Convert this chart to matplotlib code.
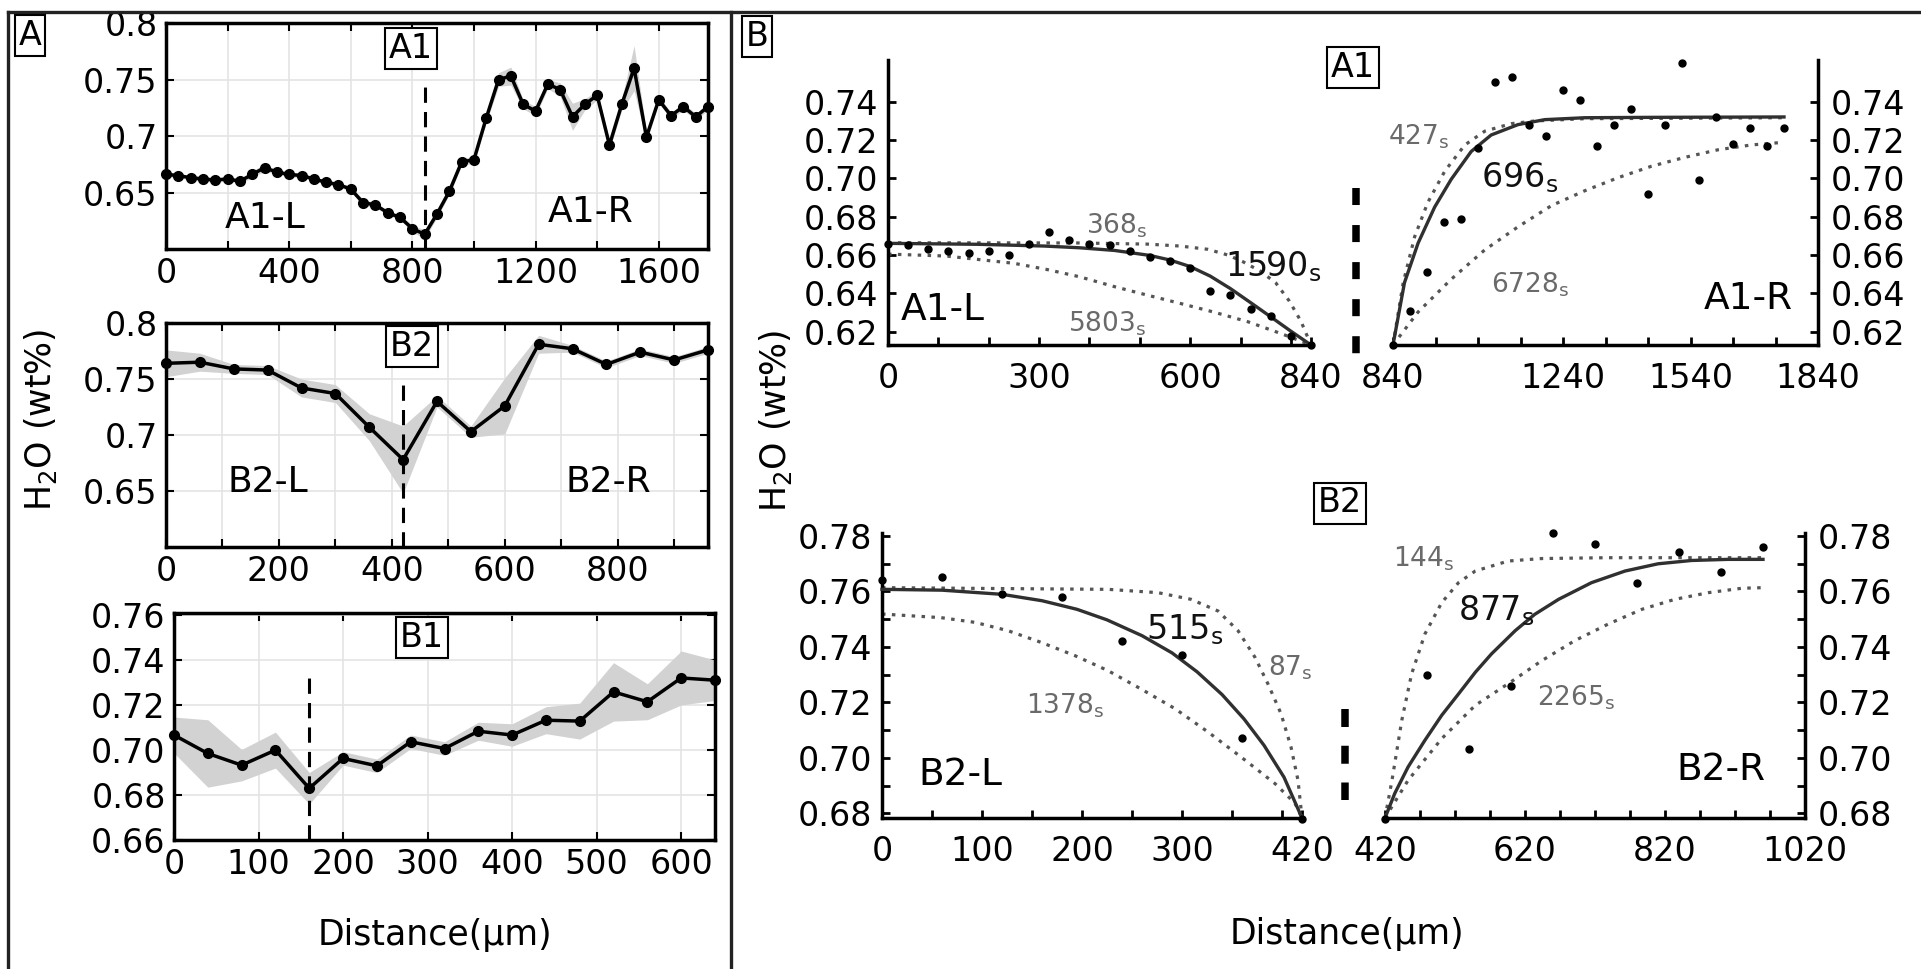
import numpy as np
import matplotlib.pyplot as plt
from matplotlib.ticker import FixedLocator

plt.rcParams['font.family'] = ['DejaVu Sans']
plt.rcParams['mathtext.fontset'] = 'dejavusans'

W, H = 1921, 969

# ---------------- measured profiles (panel A) ----------------
a1_dist = [0, 40, 80, 120, 160, 200, 240, 280, 320, 360, 400, 440, 480, 520, 560, 600, 640, 680, 720, 760, 800,
           840, 880, 920, 960, 1000, 1040, 1080, 1120, 1160, 1200, 1240, 1280, 1320, 1360, 1400, 1440, 1480,
           1520, 1560, 1600, 1640, 1680, 1720, 1760]
a1_h2o = [0.666, 0.665, 0.663, 0.662, 0.661, 0.662, 0.660, 0.666, 0.672, 0.668, 0.666, 0.665, 0.662, 0.659,
          0.657, 0.653, 0.641, 0.639, 0.632, 0.628, 0.618, 0.613, 0.631, 0.651, 0.677, 0.679, 0.716, 0.750,
          0.753, 0.728, 0.722, 0.746, 0.741, 0.717, 0.728, 0.736, 0.692, 0.728, 0.760, 0.699, 0.732, 0.718,
          0.726, 0.717, 0.726]
a1_err = [0.002, 0.002, 0.002, 0.002, 0.002, 0.002, 0.002, 0.003, 0.003, 0.002,
          0.002, 0.002, 0.002, 0.002, 0.002, 0.002, 0.003, 0.002, 0.002, 0.002,
          0.003, 0.004, 0.003, 0.003, 0.003, 0.003, 0.004, 0.006, 0.008, 0.004,
          0.004, 0.004, 0.006, 0.012, 0.005, 0.004, 0.004, 0.005, 0.020, 0.004,
          0.003, 0.003, 0.003, 0.003, 0.003]

b2_dist = [0, 60, 120, 180, 240, 300, 360, 420, 480, 540, 600, 660, 720, 780, 840, 900, 960]
b2_h2o = [0.764, 0.765, 0.759, 0.758, 0.742, 0.737, 0.707, 0.678, 0.730, 0.703, 0.726, 0.781, 0.777,
          0.763, 0.774, 0.767, 0.776]
b2_err = [0.012, 0.008, 0.004, 0.004, 0.008, 0.008, 0.012, 0.030, 0.005, 0.005, 0.025, 0.008, 0.003,
          0.003, 0.003, 0.003, 0.003]

b1_dist = [0, 40, 80, 120, 160, 200, 240, 280, 320, 360, 400, 440, 480, 520, 560, 600, 640]
b1_h2o = [0.7067, 0.6985, 0.6933, 0.7000, 0.6830, 0.6963, 0.6930, 0.7037, 0.7007, 0.7084, 0.7067,
          0.7133, 0.7129, 0.7259, 0.7215, 0.7321, 0.7311]
b1_err = [0.008, 0.015, 0.007, 0.008, 0.007, 0.003, 0.003, 0.003, 0.003, 0.004, 0.005, 0.006, 0.008,
          0.013, 0.008, 0.012, 0.009]

a1_edge, b2_edge, b1_edge = 840, 420, 160

# ---------------- diffusion fits ----------------
a1l_1590_x = [0, 180, 310, 380, 450, 520, 560, 600, 640, 680, 720, 760, 800, 840]
a1l_1590_y = [0.6661, 0.6656, 0.6647, 0.6638, 0.6624, 0.6598, 0.6574, 0.6540, 0.6490, 0.6425, 0.6352,
              0.6278, 0.6203, 0.6131]
a1l_368_x = [0, 380, 515, 580, 635, 675, 705, 740, 770, 797, 820, 840]
a1l_368_y = [0.6664, 0.6663, 0.6657, 0.6647, 0.6630, 0.6600, 0.6565, 0.6515, 0.6455, 0.6360, 0.6255, 0.6131]
a1l_5803_x = [0, 115, 250, 315, 380, 450, 515, 580, 645, 715, 780, 840]
a1l_5803_y = [0.6605, 0.6595, 0.6557, 0.6525, 0.6487, 0.6435, 0.6391, 0.6348, 0.6304, 0.6252, 0.6191, 0.6131]

a1r_696_x = [840, 867, 899, 938, 977, 1024, 1071, 1134, 1197, 1291, 1448, 1760]
a1r_696_y = [0.6131, 0.6456, 0.6662, 0.6850, 0.6995, 0.7140, 0.7226, 0.7280, 0.7306, 0.7316, 0.7318, 0.7320]
a1r_427_x = [840, 864, 891, 922, 962, 1009, 1056, 1118, 1173, 1291, 1760]
a1r_427_y = [0.6131, 0.6456, 0.6696, 0.6875, 0.7038, 0.7174, 0.7246, 0.7285, 0.7299, 0.7311, 0.7316]
a1r_6728_x = [840, 899, 977, 1056, 1134, 1213, 1291, 1369, 1448, 1526, 1605, 1683, 1760]
a1r_6728_y = [0.6131, 0.6303, 0.6474, 0.6627, 0.6747, 0.6858, 0.6935, 0.7003, 0.7063, 0.7109, 0.7149,
              0.7174, 0.7188]

b2l_515_x = [0, 60, 120, 160, 195, 225, 260, 290, 315, 340, 362, 382, 402, 420]
b2l_515_y = [0.7607, 0.7604, 0.7589, 0.7566, 0.7535, 0.7497, 0.7440, 0.7378, 0.7310, 0.7228, 0.7140,
             0.7045, 0.6930, 0.6783]
b2l_87_x = [0, 226, 276, 309, 336, 356, 373, 386, 399, 409, 416, 420]
b2l_87_y = [0.7613, 0.7607, 0.7595, 0.7571, 0.7529, 0.7458, 0.7362, 0.7266, 0.7159, 0.7039, 0.6919, 0.6783]
b2l_1378_x = [0, 59, 93, 126, 159, 193, 226, 259, 293, 326, 359, 393, 413, 420]
b2l_1378_y = [0.7518, 0.7505, 0.7488, 0.7458, 0.7416, 0.7368, 0.7314, 0.7248, 0.7177, 0.7093, 0.7003,
              0.6907, 0.6836, 0.6783]

b2r_877_x = [420, 434, 453, 477, 501, 525, 549, 572, 606, 634, 668, 715, 763, 810, 858, 910, 960]
b2r_877_y = [0.6783, 0.6872, 0.6967, 0.7063, 0.7153, 0.7230, 0.7308, 0.7374, 0.7458, 0.7517, 0.7571,
             0.7631, 0.7673, 0.7699, 0.7711, 0.7715, 0.7715]
b2r_144_x = [420, 430, 444, 458, 477, 501, 525, 549, 596, 644, 739, 960]
b2r_144_y = [0.6783, 0.6919, 0.7135, 0.7302, 0.7446, 0.7559, 0.7631, 0.7673, 0.7709, 0.7718, 0.7721, 0.7721]
b2r_2265_x = [420, 453, 501, 549, 599, 644, 691, 739, 787, 834, 882, 930, 960]
b2r_2265_y = [0.6783, 0.6919, 0.7069, 0.7189, 0.7272, 0.7350, 0.7422, 0.7482, 0.7535, 0.7571, 0.7595,
              0.7611, 0.7613]

GRAY_TXT = '#6a6a6a'
FIT_SOLID = '#303030'
FIT_DOT = '#555555'

fig = plt.figure(figsize=(W / 100, H / 100), dpi=100)


def place(x0, y0, x1, y1):
    return fig.add_axes([x0 / W, 1 - y1 / H, (x1 - x0) / W, (y1 - y0) / H])


box = dict(boxstyle='square,pad=0.12', fc='white', ec='black', lw=1.5)


def profile(ax, dist, h2o, err, edge, edge_top, xlim, ylim):
    ax.set_xlim(*xlim)
    ax.set_ylim(*ylim)
    lo = np.array(h2o) - np.array(err)
    hi = np.array(h2o) + np.array(err)
    ax.fill_between(dist, lo, hi, color='#d2d2d2', lw=0, zorder=1)
    ax.plot(dist, h2o, '-o', color='black', lw=2.5, ms=7, zorder=3, clip_on=False)
    ax.vlines(edge, ylim[0], edge_top, colors='black', lw=2.2, linestyles=(0, (5, 3)), zorder=2)
    for s in ax.spines.values():
        s.set_linewidth(2.5)
    ax.tick_params(which='both', direction='in', top=True, right=True, length=6, width=1.5,
                   labelsize=24, pad=6)
    ax.grid(True, which='both', color='#e4e4e4', lw=1.2)
    ax.set_axisbelow(True)


# ---- panel A ----
axA1 = place(166, 23, 708, 249)
profile(axA1, a1_dist, a1_h2o, a1_err, a1_edge, 0.747, (0, 1760), (0.6, 0.8))
axA1.set_xticks([0, 400, 800, 1200, 1600])
axA1.xaxis.set_minor_locator(FixedLocator([200, 600, 1000, 1400]))
axA1.set_yticks([0.65, 0.7, 0.75, 0.8], ['0.65', '0.7', '0.75', '0.8'])
axA1.text(321, 0.6186, 'A1-L', ha='center', va='baseline', fontsize=26)
axA1.text(1380, 0.624, 'A1-R', ha='center', va='baseline', fontsize=26)
axA1.text(0.452, 0.885, 'A1', transform=axA1.transAxes, ha='center', va='center', fontsize=24,
          bbox=box, zorder=5)

axB2 = place(166, 323, 708, 547)
profile(axB2, b2_dist, b2_h2o, b2_err, b2_edge, 0.747, (0, 960), (0.6, 0.8))
axB2.set_xticks([0, 200, 400, 600, 800])
axB2.xaxis.set_minor_locator(FixedLocator([100, 300, 500, 700, 900]))
axB2.set_yticks([0.65, 0.7, 0.75, 0.8], ['0.65', '0.7', '0.75', '0.8'])
axB2.text(181, 0.649, 'B2-L', ha='center', va='baseline', fontsize=26)
axB2.text(783, 0.649, 'B2-R', ha='center', va='baseline', fontsize=26)
axB2.text(0.454, 0.893, 'B2', transform=axB2.transAxes, ha='center', va='center', fontsize=24,
          bbox=box, zorder=5)

axB1 = place(174, 613, 715, 840)
profile(axB1, b1_dist, b1_h2o, b1_err, b1_edge, 0.733, (0, 640), (0.66, 0.761))
axB1.set_xticks([0, 100, 200, 300, 400, 500, 600])
axB1.set_yticks([0.66, 0.68, 0.70, 0.72, 0.74, 0.76], ['0.66', '0.68', '0.70', '0.72', '0.74', '0.76'])
axB1.text(0.458, 0.894, 'B1', transform=axB1.transAxes, ha='center', va='center', fontsize=24,
          bbox=box, zorder=5)


# ---- panel B ----
def fit_axes(ax, side, xlim, ylim, xmaj, xlabels, xmin, ymaj, ymin):
    ax.set_xlim(*xlim)
    ax.set_ylim(*ylim)
    ax.spines['top'].set_visible(False)
    hide = 'right' if side == 'left' else 'left'
    ax.spines[hide].set_visible(False)
    for s in ['bottom', side]:
        ax.spines[s].set_linewidth(2.5)
    if side == 'right':
        ax.yaxis.tick_right()
    ax.set_xticks(xmaj, xlabels)
    ax.xaxis.set_minor_locator(FixedLocator(xmin))
    ax.set_yticks(ymaj, ['%.2f' % v for v in ymaj])
    if ymin:
        ax.yaxis.set_minor_locator(FixedLocator(ymin))
    ax.tick_params(which='both', direction='in', length=6, width=2, labelsize=24)
    ax.tick_params(axis='x', pad=12)
    ax.tick_params(axis='y', pad=9 if side == 'right' else 7)
    ax.patch.set_alpha(0)


def fit_line(ax, x, y, solid):
    if solid:
        ax.plot(x, y, '-', color=FIT_SOLID, lw=2.4, zorder=3, clip_on=False)
    else:
        ax.plot(x, y, color=FIT_DOT, lw=2.3, linestyle=(0, (1.1, 2.0)), zorder=2, clip_on=False)


def tlabel(ax, x, y, num, big, ha='left'):
    ax.text(x, y, num + r'$_\mathrm{s}$', ha=ha, va='baseline',
            fontsize=24 if big else 19, color='#111111' if big else GRAY_TXT, zorder=6)


a1_ylim = (0.6131, 0.7617)
a1_yt = [0.62, 0.64, 0.66, 0.68, 0.70, 0.72, 0.74]
b2_ylim = (0.6783, 0.781)
b2_yt = [0.68, 0.70, 0.72, 0.74, 0.76, 0.78]
b2_ym = [0.69, 0.71, 0.73, 0.75, 0.77]

ax1l = place(888, 60, 1311, 345)
fit_axes(ax1l, 'left', (0, 840), a1_ylim, [0, 300, 600, 840], ['0', '300', '600', '840'],
         [100, 200, 400, 500, 700, 800], a1_yt, None)
fit_line(ax1l, a1l_5803_x, a1l_5803_y, False)
fit_line(ax1l, a1l_368_x, a1l_368_y, False)
fit_line(ax1l, a1l_1590_x, a1l_1590_y, True)
ax1l.plot(a1_dist[:22], a1_h2o[:22], 'o', color='black', ms=5, zorder=4, clip_on=False)
ax1l.text(26, 0.6261, 'A1-L', fontsize=27, va='baseline')
tlabel(ax1l, 394, 0.6713, '368', False)
tlabel(ax1l, 358, 0.6200, '5803', False)
tlabel(ax1l, 669, 0.6487, '1590', True)

ax1r = place(1393, 60, 1818, 345)
fit_axes(ax1r, 'right', (840, 1840), a1_ylim, [840, 1240, 1540, 1840], ['840', '1240', '1540', '1840'],
         [940, 1040, 1140, 1340, 1440, 1640, 1740], a1_yt, None)
fit_line(ax1r, a1r_6728_x, a1r_6728_y, False)
fit_line(ax1r, a1r_427_x, a1r_427_y, False)
fit_line(ax1r, a1r_696_x, a1r_696_y, True)
ax1r.plot(a1_dist[21:], a1_h2o[21:], 'o', color='black', ms=5, zorder=4, clip_on=False)
ax1r.text(1781, 0.632, 'A1-R', fontsize=27, ha='right', va='baseline')
tlabel(ax1r, 828, 0.7174, '427', False)
tlabel(ax1r, 1048, 0.6952, '696', True)
tlabel(ax1r, 1071, 0.6405, '6728', False)

ax2l = place(882, 533, 1302, 818)
fit_axes(ax2l, 'left', (0, 420), b2_ylim, [0, 100, 200, 300, 420], ['0', '100', '200', '300', '420'],
         [50, 150, 250, 350, 400], b2_yt, b2_ym)
fit_line(ax2l, b2l_1378_x, b2l_1378_y, False)
fit_line(ax2l, b2l_87_x, b2l_87_y, False)
fit_line(ax2l, b2l_515_x, b2l_515_y, True)
ax2l.plot(b2_dist[:8], b2_h2o[:8], 'o', color='black', ms=5, zorder=4, clip_on=False)
ax2l.text(36, 0.6901, 'B2-L', fontsize=27, va='baseline')
tlabel(ax2l, 264, 0.7428, '515', True)
tlabel(ax2l, 386, 0.7296, '87', False)
tlabel(ax2l, 144, 0.7159, '1378', False)

ax2r = place(1385, 533, 1805, 818)
fit_axes(ax2r, 'right', (420, 1020), b2_ylim, [420, 620, 820, 1020], ['420', '620', '820', '1020'],
         [470, 520, 570, 670, 720, 770, 870, 920, 970], b2_yt, b2_ym)
fit_line(ax2r, b2r_2265_x, b2r_2265_y, False)
fit_line(ax2r, b2r_144_x, b2r_144_y, False)
fit_line(ax2r, b2r_877_x, b2r_877_y, True)
ax2r.plot(b2_dist[7:], b2_h2o[7:], 'o', color='black', ms=5, zorder=4, clip_on=False)
ax2r.text(963, 0.6919, 'B2-R', fontsize=27, ha='right', va='baseline')
tlabel(ax2r, 432, 0.7691, '144', False)
tlabel(ax2r, 525, 0.7494, '877', True)
tlabel(ax2r, 637, 0.7189, '2265', False)

# ---- frame, panel letters, shared labels (figure pixel space) ----
bg = fig.add_axes([0, 0, 1, 1], facecolor='none')
bg.set_xlim(0, W)
bg.set_ylim(H, 0)
bg.axis('off')
bg.plot([8, W], [12, 12], color='#222222', lw=2.4)
bg.plot([8, 8], [12, H], color='#222222', lw=2.4)
bg.plot([731, 731], [12, H], color='#222222', lw=2.4)
bg.text(30, 35, 'A', ha='center', va='center', fontsize=24, bbox=box)
bg.text(757, 36, 'B', ha='center', va='center', fontsize=24, bbox=box)
bg.text(1353, 67, 'A1', ha='center', va='center', fontsize=24, bbox=box)
bg.text(1340, 503, 'B2', ha='center', va='center', fontsize=24, bbox=box)
bg.vlines(1356, 188, 355, colors='black', lw=5.4, linestyles=(0, (2.27, 2.67)))
bg.vlines(1345, 709, 800, colors='black', lw=5.4, linestyles=(0, (2.4, 2.5)))
bg.text(41, 420, r'H$_2$O (wt%)', rotation=90, ha='center', va='center', fontsize=25)
bg.text(776, 421, r'H$_2$O (wt%)', rotation=90, ha='center', va='center', fontsize=25)
bg.text(435, 935, 'Distance(\u03bcm)', ha='center', va='center', fontsize=25)
bg.text(1347, 934, 'Distance(\u03bcm)', ha='center', va='center', fontsize=25)

fig.savefig('out.png', dpi=100)
